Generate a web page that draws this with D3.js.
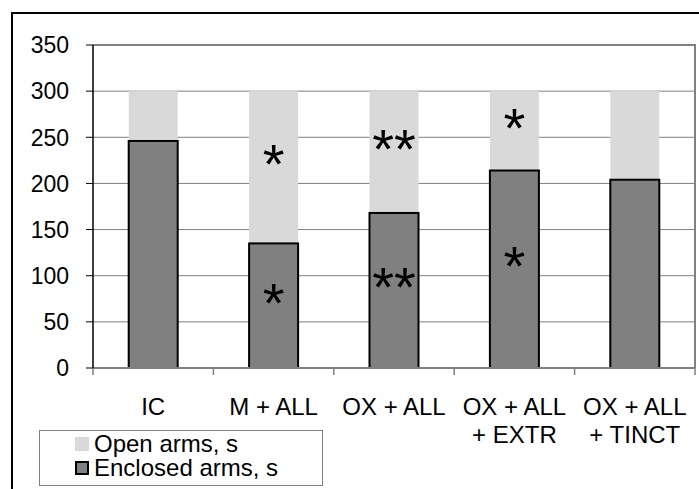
<!DOCTYPE html>
<html>
<head>
<meta charset="utf-8">
<script src="https://cdn.jsdelivr.net/npm/d3@7"></script>
<style>
  body { margin: 0; background: #fff; }
  svg { display: block; font-family: "Liberation Sans", Arial, sans-serif; }
</style>
</head>
<body>
<div id="chart"></div>
<script>
// data
var categories = [["IC"], ["M + ALL"], ["OX + ALL"], ["OX + ALL", "+ EXTR"], ["OX + ALL", "+ TINCT"]];
var enclosedArms = [246, 135, 168, 214, 204];
var openArms = [54, 165, 132, 86, 96];
var marksEnclosed = ["", "*", "**", "*", ""];
var marksOpen = ["", "*", "**", "*", ""];
var yTicks = [0, 50, 100, 150, 200, 250, 300, 350];
var legendLabels = ["Open arms, s", "Enclosed arms, s"];

var W = 699, H = 489;
var svg = d3.select("#chart").append("svg")
  .attr("width", W).attr("height", H);

// outer frame (runs off the right/bottom edge)
svg.append("rect")
  .attr("x", 12).attr("y", 13).attr("width", 720).attr("height", 520)
  .attr("fill", "none").attr("stroke", "#000").attr("stroke-width", 2);

var plotL = 93, plotR = 695, plotT = 45, plotB = 368;

var x = d3.scaleBand()
  .domain(d3.range(categories.length))
  .range([plotL, plotR])
  .padding(0);

var y = d3.scaleLinear()
  .domain([0, 350])
  .range([plotB, plotT]);

var barW = x.bandwidth() * 0.407;

// gridlines
svg.append("g").selectAll("line")
  .data(yTicks.filter(function(d) { return d > 0 && d < 350; }))
  .enter().append("line")
    .attr("x1", plotL).attr("x2", plotR)
    .attr("y1", function(d) { return y(d); })
    .attr("y2", function(d) { return y(d); })
    .attr("stroke", "#808080").attr("stroke-width", 1);

// plot area border top/right
svg.append("path")
  .attr("d", "M" + plotL + "," + y(350) + "H" + plotR + "V" + plotB)
  .attr("fill", "none").attr("stroke", "#808080").attr("stroke-width", 2);

var rows = categories.map(function(c, i) {
  return { i: i, enc: enclosedArms[i], open: openArms[i], mE: marksEnclosed[i], mO: marksOpen[i] };
});

var bars = svg.append("g");

// open arms (stacked on top)
bars.selectAll(".open")
  .data(rows).enter().append("rect")
    .attr("class", "open")
    .attr("x", function(d) { return x(d.i) + x.bandwidth() / 2 - barW / 2; })
    .attr("y", function(d) { return y(d.enc + d.open); })
    .attr("width", barW)
    .attr("height", function(d) { return y(d.enc) - y(d.enc + d.open); })
    .attr("fill", "#d9d9d9");

// enclosed arms
bars.selectAll(".enc")
  .data(rows).enter().append("rect")
    .attr("class", "enc")
    .attr("x", function(d) { return x(d.i) + x.bandwidth() / 2 - barW / 2; })
    .attr("y", function(d) { return y(d.enc); })
    .attr("width", barW)
    .attr("height", function(d) { return y(0) - y(d.enc); })
    .attr("fill", "#808080")
    .attr("stroke", "#000").attr("stroke-width", 2);

// x axis
var xAxis = svg.append("g");
xAxis.append("line")
  .attr("x1", plotL).attr("x2", plotR)
  .attr("y1", plotB).attr("y2", plotB)
  .attr("stroke", "#808080").attr("stroke-width", 2);
xAxis.selectAll(".tick")
  .data(d3.range(categories.length + 1))
  .enter().append("line")
    .attr("x1", function(d) { return plotL + d * x.step(); })
    .attr("x2", function(d) { return plotL + d * x.step(); })
    .attr("y1", plotB).attr("y2", plotB + 7)
    .attr("stroke", "#808080").attr("stroke-width", 1.5);

var xl = xAxis.selectAll(".lab")
  .data(rows).enter().append("text")
    .attr("text-anchor", "middle")
    .attr("font-size", 24)
    .attr("fill", "#000");
xl.selectAll("tspan")
  .data(function(d) { return categories[d.i].map(function(t) { return { t: t, i: d.i }; }); })
  .enter().append("tspan")
    .attr("x", function(d) { return x(d.i) + x.bandwidth() / 2; })
    .attr("y", function(d, k) { return 415 + k * 28; })
    .text(function(d) { return d.t; });

// y axis
var yAxis = svg.append("g");
yAxis.append("line")
  .attr("x1", plotL).attr("x2", plotL)
  .attr("y1", y(350)).attr("y2", plotB)
  .attr("stroke", "#000").attr("stroke-width", 1.5);
yAxis.selectAll(".tk")
  .data(yTicks).enter().append("line")
    .attr("x1", plotL - 7).attr("x2", plotL)
    .attr("y1", function(d) { return y(d); })
    .attr("y2", function(d) { return y(d); })
    .attr("stroke", "#000").attr("stroke-width", 1);
yAxis.selectAll("text")
  .data(yTicks).enter().append("text")
    .attr("x", 69)
    .attr("y", function(d) { return y(d); })
    .attr("dy", "0.36em")
    .attr("text-anchor", "end")
    .attr("font-size", 23)
    .text(function(d) { return d; });

// significance marks, centred in each segment (asterisk ink sits high)
var markSize = 56;
var marks = svg.append("g")
  .attr("font-size", markSize)
  .attr("text-anchor", "middle")
  .attr("fill", "#000");
marks.selectAll(".mo")
  .data(rows.filter(function(d) { return d.mO; }))
  .enter().append("text")
    .attr("x", function(d) { return x(d.i) + x.bandwidth() / 2; })
    .attr("y", function(d) { return (y(d.enc) + y(d.enc + d.open)) / 2 + markSize * 0.57 - 16; })
    .text(function(d) { return d.mO; });
marks.selectAll(".me")
  .data(rows.filter(function(d) { return d.mE; }))
  .enter().append("text")
    .attr("x", function(d) { return x(d.i) + x.bandwidth() / 2; })
    .attr("y", function(d) { return (y(0) + y(d.enc)) / 2 + markSize * 0.57 - 16; })
    .text(function(d) { return d.mE; });

// legend
var lg = svg.append("g");
lg.append("rect")
  .attr("x", 39.5).attr("y", 430.5).attr("width", 283).attr("height", 55)
  .attr("fill", "#fff").attr("stroke", "#808080").attr("stroke-width", 1);
lg.append("rect")
  .attr("x", 75).attr("y", 437).attr("width", 14).attr("height", 14)
  .attr("fill", "#d9d9d9");
lg.append("rect")
  .attr("x", 76).attr("y", 462).attr("width", 12).attr("height", 12)
  .attr("fill", "#808080").attr("stroke", "#000").attr("stroke-width", 2);
lg.selectAll("text")
  .data(legendLabels).enter().append("text")
    .attr("x", 94)
    .attr("y", function(d, i) { return 452 + i * 24; })
    .attr("font-size", 24)
    .text(function(d) { return d; });
</script>
</body>
</html>
